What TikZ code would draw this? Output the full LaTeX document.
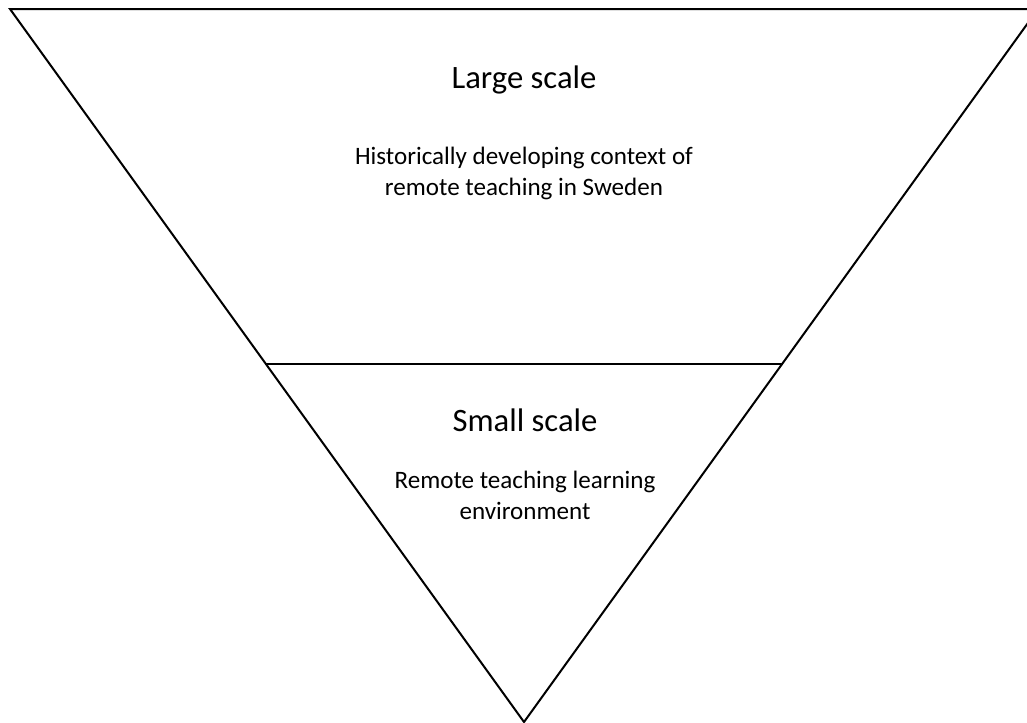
\documentclass[tikz,border=0pt]{standalone}
\usepackage{fontspec}
\setmainfont{Carlito}
\begin{document}
\begin{tikzpicture}[x=0.75pt,y=-0.75pt,
  edge/.style={line width=1.5pt,line join=miter,draw=black},
  title/.style={font=\fontsize{24.5}{29}\selectfont,align=center,inner sep=0pt},
  body/.style={font=\fontsize{18.8}{23.3}\selectfont,align=center,inner sep=0pt}]
\useasboundingbox (0,0) rectangle (1027,722);
\clip (0,0) rectangle (1027,722);
\coordinate (tl) at (10,9);
\coordinate (tr) at (1038,9);
\coordinate (ap) at (524,722);
\coordinate (ml) at (266,364);
\coordinate (mr) at (782,364);
\draw[edge] (tl) -- (tr) -- (ap) -- cycle;
\draw[edge] (ml) -- (mr);
\node[title] (large) at (524,80) {Large scale};
\node[body] (ltext) at (524,173) {Historically developing context of\\remote teaching in Sweden};
\node[title] (small) at (525,420) {Small scale};
\node[body] (stext) at (525,495) {Remote teaching learning\\environment};
\end{tikzpicture}
\end{document}
